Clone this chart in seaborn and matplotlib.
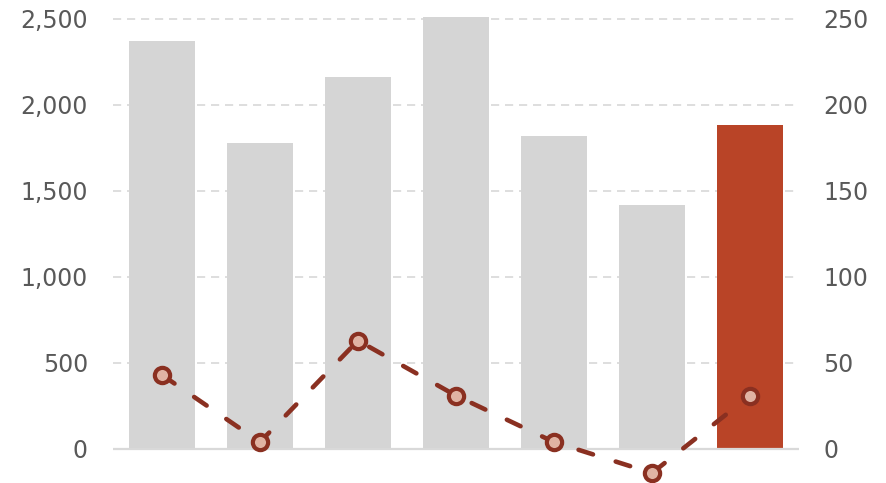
import numpy as np
import pandas as pd
import matplotlib
matplotlib.use("Agg")
import matplotlib.pyplot as plt
from matplotlib.ticker import FuncFormatter, FixedLocator
import seaborn as sns

# Data
categories = ["P1", "P2", "P3", "P4", "P5", "P6", "P7"]
bar_values = [2370, 1780, 2160, 2510, 1820, 1420, 1885]
line_values = [43, 4, 63, 31, 4, -14, 31]
left_ticks = [0, 500, 1000, 1500, 2000, 2500]
right_ticks = [0, 50, 100, 150, 200, 250]

# Styling
GRAY_BAR = "#D5D5D5"
HIGHLIGHT = "#B94427"
LINE_COLOR = "#8A3021"
MARKER_FACE = "#E0B3A3"
TEXT_COLOR = "#595959"
GRID_COLOR = "#DEDEDE"

sns.set_theme(style="white")
plt.rcParams["font.family"] = ["DejaVu Sans"]

fig = plt.figure(figsize=(8.87, 4.83), dpi=100)
ax = fig.add_axes([113 / 887, 0.0, 686 / 887, 1.0])

df = pd.DataFrame({"cat": categories, "value": bar_values})
palette = [GRAY_BAR] * (len(categories) - 1) + [HIGHLIGHT]
sns.barplot(data=df, x="cat", y="value", hue="cat", palette=palette,
            legend=False, width=0.673, saturation=1, linewidth=0,
            edgecolor="none", ax=ax, zorder=2)

ax.set_xlim(-0.5, len(categories) - 0.5)
ax.set_ylim(-198, 2610)
ax.yaxis.set_major_locator(FixedLocator(left_ticks))
ax.yaxis.set_major_formatter(FuncFormatter(lambda v, p: f"{int(v):,}"))
ax.set_xticks([])
ax.set_xlabel("")
ax.set_ylabel("")
for s in ax.spines.values():
    s.set_visible(False)

# dashed gridlines behind bars
for t in left_ticks[1:]:
    ax.axhline(t, color=GRID_COLOR, lw=1.4, ls=(0, (4.2, 3.0)), zorder=1)
ax.axhline(0, color="#D9D9D9", lw=1.6, zorder=3)

ax.tick_params(axis="y", length=0, pad=18, labelsize=17, labelcolor=TEXT_COLOR)

# Secondary axis with the line series
ax2 = ax.twinx()
ax2.set_ylim(-19.8, 261)
sns.lineplot(x=np.arange(len(categories)), y=line_values, ax=ax2,
             color=LINE_COLOR, lw=3.3, marker="o", markersize=11,
             markerfacecolor=MARKER_FACE, markeredgecolor=LINE_COLOR,
             markeredgewidth=3.0, zorder=5, clip_on=False)
line = ax2.lines[0]
line.set_linestyle((0, (3.3, 5.2)))
line.set_dash_capstyle("round")
ax2.yaxis.set_major_locator(FixedLocator(right_ticks))
ax2.yaxis.set_major_formatter(FuncFormatter(lambda v, p: f"{int(v)}"))
ax2.tick_params(axis="y", length=0, pad=17.5, labelsize=17, labelcolor=TEXT_COLOR)
ax2.set_ylabel("")
ax2.grid(False)
for s in ax2.spines.values():
    s.set_visible(False)

fig.savefig("out.png", dpi=100)
